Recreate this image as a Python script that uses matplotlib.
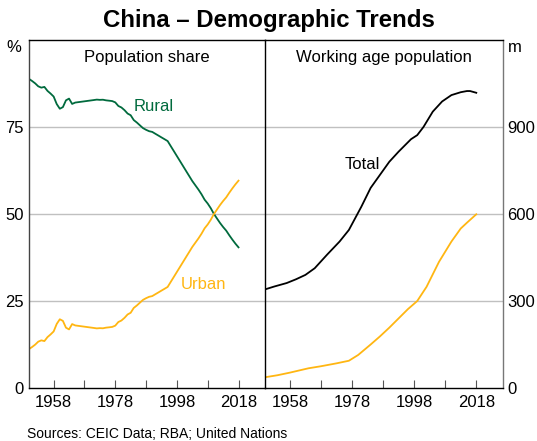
import matplotlib
matplotlib.use("Agg")
import matplotlib.pyplot as plt

plt.rcParams['font.family'] = ['Liberation Sans', 'DejaVu Sans']

# Left panel: population share (%)
share_years = list(range(1950, 2019))
urban_share = [11.18, 11.78, 12.46, 13.31, 13.69, 13.48, 14.62, 15.39, 16.25, 18.41,
               19.75, 19.29, 17.33, 16.84, 18.37, 17.98, 17.86, 17.74, 17.62, 17.50,
               17.38, 17.26, 17.13, 17.20, 17.16, 17.34, 17.44, 17.55, 17.92, 18.96,
               19.39, 20.16, 21.13, 21.62, 23.01, 23.71, 24.52, 25.32, 25.81, 26.21,
               26.41, 26.94, 27.46, 27.99, 28.51, 29.04, 30.48, 31.91, 33.35, 34.78,
               36.22, 37.66, 39.09, 40.53, 41.76, 42.99, 44.34, 45.89, 46.99, 48.34,
               49.95, 51.27, 52.57, 53.73, 54.77, 56.10, 57.35, 58.52, 59.58]
rural_share = [100 - u for u in urban_share]

# Right panel: working age population (millions)
total_years = [1950, 1953, 1957, 1960, 1963, 1966, 1970, 1974, 1977, 1979, 1981, 1984, 1987,
               1990, 1993, 1997, 1999, 2001, 2004, 2007, 2010, 2013, 2015, 2016, 2018]
total_wap = [340, 350, 362, 375, 390, 413, 460, 505, 545, 585, 625, 690, 735,
             780, 815, 858, 872, 900, 953, 988, 1010, 1020, 1024, 1024, 1018]
urban_years = [1950, 1954, 1958, 1962, 1964, 1968, 1973, 1977, 1980, 1984, 1987, 1990,
               1993, 1996, 1999, 2002, 2006, 2010, 2013, 2015, 2018]
urban_wap = [37, 44, 53, 63, 68, 75, 85, 94, 114, 150, 178, 208,
             240, 272, 300, 349, 435, 505, 550, 570, 599]

x_ticks = [1958, 1978, 1998, 2018]
x_minor = list(range(1958, 2019, 10))
left_yticks = [0, 25, 50, 75]
right_yticks = [0, 300, 600, 900]

GREEN = '#006a3d'
ORANGE = '#ffb612'
GRID = '#c0c0c0'

fig = plt.figure(figsize=(5.37, 4.41), dpi=100)
W, H = 537, 441
def pos(x0, y0, x1, y1):
    return [x0 / W, 1 - y1 / H, (x1 - x0) / W, (y1 - y0) / H]

axR = fig.add_axes(pos(265, 40, 503, 388))
axL = fig.add_axes(pos(29, 40, 265, 388))
axL.patch.set_visible(False)

xlim = (1950, 2026.6)
for ax in (axL, axR):
    ax.set_xlim(*xlim)
    ax.set_xticks(x_minor)
    ax.set_xticklabels([str(y) if y in x_ticks else '' for y in x_minor])
    ax.tick_params(axis='x', direction='in', length=6, width=0.8, color='#555555',
                   labelsize=12, pad=5)
    ax.tick_params(axis='y', length=0, labelsize=12)
    for s in ax.spines.values():
        s.set_linewidth(1.0)

axL.set_ylim(0, 100)
axL.set_yticks(left_yticks)
for v in left_yticks[1:]:
    axL.axhline(v, color=GRID, lw=1.0, zorder=0)
axL.plot(share_years, rural_share, color=GREEN, lw=1.3)
axL.plot(share_years, urban_share, color=ORANGE, lw=1.3)
axL.spines['left'].set_color('#444444')
axL.spines['right'].set_color('black')
axL.tick_params(axis='y', pad=4)
axL.text(0.5, 0.95, 'Population share', transform=axL.transAxes, ha='center',
         va='center', fontsize=12)
axL.text(1990.6, 80.8, 'Rural', color=GREEN, fontsize=12, ha='center', va='center')
axL.text(2006.8, 29.6, 'Urban', color=ORANGE, fontsize=12, ha='center', va='center')

axR.set_ylim(0, 1200)
axR.set_yticks(right_yticks)
axR.yaxis.tick_right()
axR.tick_params(axis='y', pad=3)
for v in right_yticks[1:]:
    axR.axhline(v, color=GRID, lw=1.0, zorder=0)
axR.plot(total_years, total_wap, color='black', lw=1.3)
axR.plot(urban_years, urban_wap, color=ORANGE, lw=1.3)
axR.spines['left'].set_visible(False)
axR.spines['right'].set_color('#777777')
axR.text(0.5, 0.95, 'Working age population', transform=axR.transAxes, ha='center',
         va='center', fontsize=12)
axR.text(1981.2, 772, 'Total', color='black', fontsize=12, ha='center', va='center')

fig.text(14 / W, 1 - 47 / H, '%', fontsize=12, ha='center', va='center')
fig.text(515 / W, 1 - 47 / H, 'm', fontsize=12, ha='center', va='center')
fig.text(0.5, 1 - 20 / H, 'China – Demographic Trends', fontsize=17.3, fontweight='bold',
         ha='center', va='center')
fig.text(27 / W, 1 - 434 / H, 'Sources: CEIC Data; RBA; United Nations', fontsize=10,
         ha='left', va='center')

fig.savefig('out.png', dpi=100)
